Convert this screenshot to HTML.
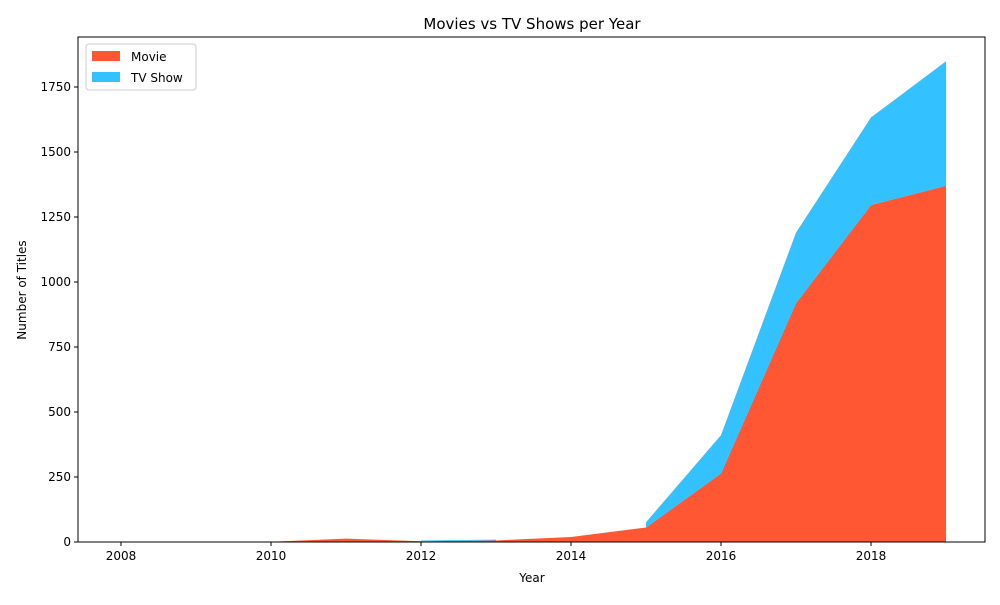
<!DOCTYPE html>
<html><head><meta charset="utf-8"><style>
body{margin:0;background:#fff;font-family:"Liberation Sans","DejaVu Sans",sans-serif}
text{font-family:"DejaVu Sans","Liberation Sans",sans-serif}
</style></head><body>
<svg id="c" width="1000" height="600"></svg>
<script>
const years=[2008,2009,2010,2011,2012,2013,2014,2015,2016,2017,2018,2019];
const movies=[1,2,1,13,3,6,19,56,264,919,1296,1370];
const tvShows=[null,null,null,null,3,3,null,20,147,271,337,479];
const xTicks=[2008,2010,2012,2014,2016,2018];
const yTicks=[0,250,500,750,1000,1250,1500,1750];
const L=78,R=985,T=37,B=542;
const x=v=>121+(v-2008)*75;
const y=v=>B-v*0.26;
const svg=document.getElementById('c');
const NS='http://www.w3.org/2000/svg';
function el(t,a,p){const e=document.createElementNS(NS,t);for(const k in a)e.setAttribute(k,a[k]);(p||svg).appendChild(e);return e;}
let d='M'+x(years[0])+','+y(0);
years.forEach((yr,i)=>{d+=' L'+x(yr)+','+y(movies[i]);});
d+=' L'+x(years[years.length-1])+','+y(0)+'Z';
const ma=el('path',{d:d,fill:'#ff5733'});


let seg=[];
function flush(){if(seg.length>=2){let p='M'+seg.map(i=>x(years[i])+','+y(movies[i]+tvShows[i])).join(' L');
for(let j=seg.length-1;j>=0;j--){p+=' L'+x(years[seg[j]])+','+y(movies[seg[j]]);}p+='Z';
const ta=el('path',{d:p,fill:'#33c1ff'});

}seg=[];}
years.forEach((yr,i)=>{if(tvShows[i]==null)flush();else seg.push(i);});flush();
el('rect',{x:L,y:T,width:R-L,height:B-T,fill:'none',stroke:'#000','stroke-width':1});
xTicks.forEach(v=>{el('line',{x1:x(v),x2:x(v),y1:B,y2:B+4,stroke:'#000'});
const t=el('text',{x:x(v),y:B+18,'text-anchor':'middle','font-size':12});t.textContent=v;

});
yTicks.forEach(v=>{el('line',{x1:L-4,x2:L,y1:y(v),y2:y(v),stroke:'#000'});
const t=el('text',{x:L-7,y:y(v)+4,'text-anchor':'end','font-size':12});t.textContent=v;

});
</script>
<svg width="1000" height="600" style="position:absolute;left:0;top:0">
<text x="532" y="29" text-anchor="middle" font-size="15">Movies vs TV Shows per Year</text>
<text x="532" y="582" text-anchor="middle" font-size="12">Year</text>
<text transform="translate(26,290) rotate(-90)" text-anchor="middle" font-size="12">Number of Titles</text>
<g>
<rect x="86" y="44" width="110" height="46" rx="3" fill="#fff" fill-opacity="0.8" stroke="#ccc"/>
<rect x="92" y="51" width="28" height="10" fill="#ff5733"/>
<text x="131" y="61" font-size="12">Movie</text>
<rect x="92" y="72" width="28" height="10" fill="#33c1ff"/>
<text x="131" y="82" font-size="12">TV Show</text>
</g>
</svg>
</body></html>
